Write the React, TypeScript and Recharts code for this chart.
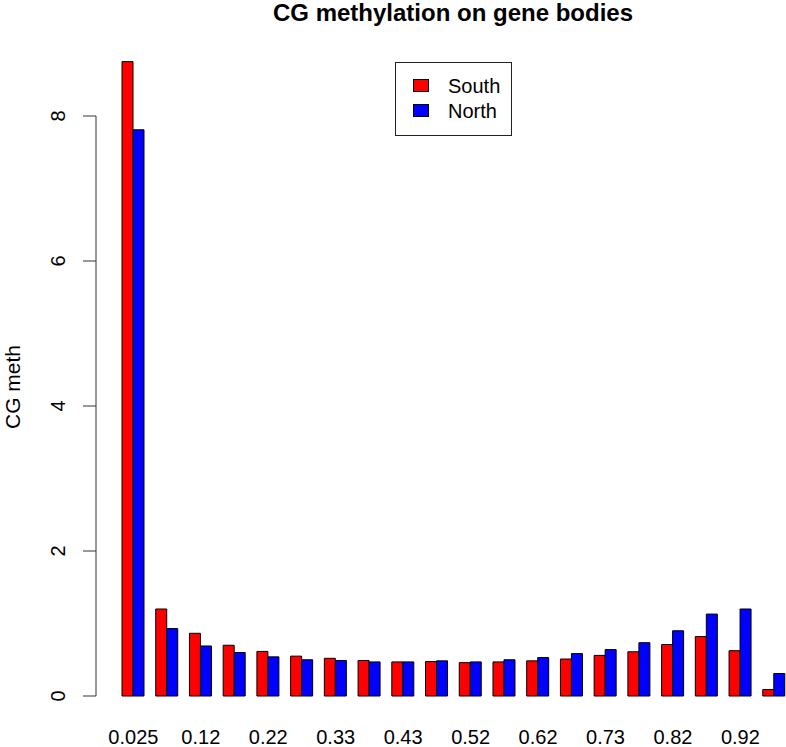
import { Bar, BarChart, Legend, XAxis, YAxis } from 'recharts'

const bins = [
  '0.025', '0.08', '0.12', '0.18', '0.22', '0.28', '0.33', '0.38', '0.43', '0.48',
  '0.52', '0.58', '0.62', '0.68', '0.73', '0.78', '0.82', '0.88', '0.92', '0.98',
]
const south = [
  8.75, 1.2, 0.865, 0.7, 0.615, 0.55, 0.52, 0.49, 0.47, 0.475,
  0.46, 0.47, 0.485, 0.51, 0.56, 0.61, 0.71, 0.82, 0.625, 0.09,
]
const north = [
  7.81, 0.93, 0.69, 0.6, 0.54, 0.5, 0.49, 0.47, 0.47, 0.485,
  0.47, 0.5, 0.53, 0.585, 0.64, 0.735, 0.9, 1.13, 1.2, 0.31,
]
const yTicks = [0, 2, 4, 6, 8]
const yMax = 9

const data = bins.map((bin, i) => ({ bin, South: south[i], North: north[i] }))

const FONT = '"Liberation Sans", Arial, Helvetica, sans-serif'
const CHART_W = 791
const CHART_H = 747
const TOP = 43.5
const X_AXIS_H = 51
const Y_AXIS_W = 116.5
const pxPerUnit = (CHART_H - TOP - X_AXIS_H) / yMax
const AXIS_X = 96

function YTick(props: any) {
  const { y, payload } = props
  return (
    <g>
      <line x1={AXIS_X - 13} x2={AXIS_X} y1={y} y2={y} stroke='#333' />
      {payload.value === 0 && (
        <line
          x1={AXIS_X}
          x2={AXIS_X}
          y1={y}
          y2={y - yTicks[yTicks.length - 1] * pxPerUnit}
          stroke='#333'
        />
      )}
      <text
        x={58}
        y={y}
        transform={`rotate(-90, 58, ${y})`}
        textAnchor='middle'
        dominantBaseline='central'
        fontSize={20}
        fontFamily={FONT}
        fill='#000'
      >
        {payload.value}
      </text>
    </g>
  )
}

function LegendBox() {
  const items = [
    { name: 'South', color: '#ff0000' },
    { name: 'North', color: '#0000ff' },
  ]
  return (
    <div
      style={{
        position: 'relative',
        width: 117,
        height: 74,
        boxSizing: 'border-box',
        border: '1px solid #222',
        background: '#fff',
        fontFamily: FONT,
        fontSize: 20,
        color: '#000',
      }}
    >
      {items.map((item, i) => (
        <div key={item.name}>
          <div
            style={{
              position: 'absolute',
              left: 17,
              top: 16 + i * 25,
              width: 16,
              height: 13,
              boxSizing: 'border-box',
              background: item.color,
              border: '1px solid #000',
            }}
          />
          <div
            style={{
              position: 'absolute',
              left: 52,
              top: 11 + i * 25,
              lineHeight: '24px',
            }}
          >
            {item.name}
          </div>
        </div>
      ))}
    </div>
  )
}

export default function App() {
  return (
    <div
      style={{
        position: 'absolute',
        left: 0,
        top: 0,
        width: 786,
        height: 747,
        overflow: 'hidden',
        background: '#fff',
      }}
    >
      <BarChart
        width={CHART_W}
        height={CHART_H}
        data={data}
        margin={{ top: TOP, right: 0, bottom: 0, left: 0 }}
        barCategoryGap={5.5}
        barGap={0}
      >
        <text
          x={453}
          y={21}
          textAnchor='middle'
          fontSize={24}
          fontWeight='bold'
          fontFamily={FONT}
          fill='#000'
        >
          CG methylation on gene bodies
        </text>
        <text
          x={20}
          y={387}
          transform='rotate(-90, 20, 387)'
          textAnchor='middle'
          fontSize={21}
          fontFamily={FONT}
          fill='#000'
        >
          CG meth
        </text>
        <XAxis
          dataKey='bin'
          height={X_AXIS_H}
          axisLine={false}
          tickLine={false}
          interval={1}
          tickMargin={28}
          tick={{ fontSize: 20, fill: '#000', fontFamily: FONT }}
        />
        <YAxis
          width={Y_AXIS_W}
          domain={[0, yMax]}
          ticks={yTicks}
          axisLine={false}
          tickLine={false}
          tick={<YTick />}
        />
        <Legend
          layout='vertical'
          align='center'
          verticalAlign='middle'
          content={() => <LegendBox />}
          wrapperStyle={{ left: 395, top: 62, width: 117, height: 74 }}
        />
        <Bar dataKey='South' fill='#ff0000' stroke='#000' strokeWidth={1} isAnimationActive={false} />
        <Bar dataKey='North' fill='#0000ff' stroke='#000' strokeWidth={1} isAnimationActive={false} />
      </BarChart>
    </div>
  )
}
